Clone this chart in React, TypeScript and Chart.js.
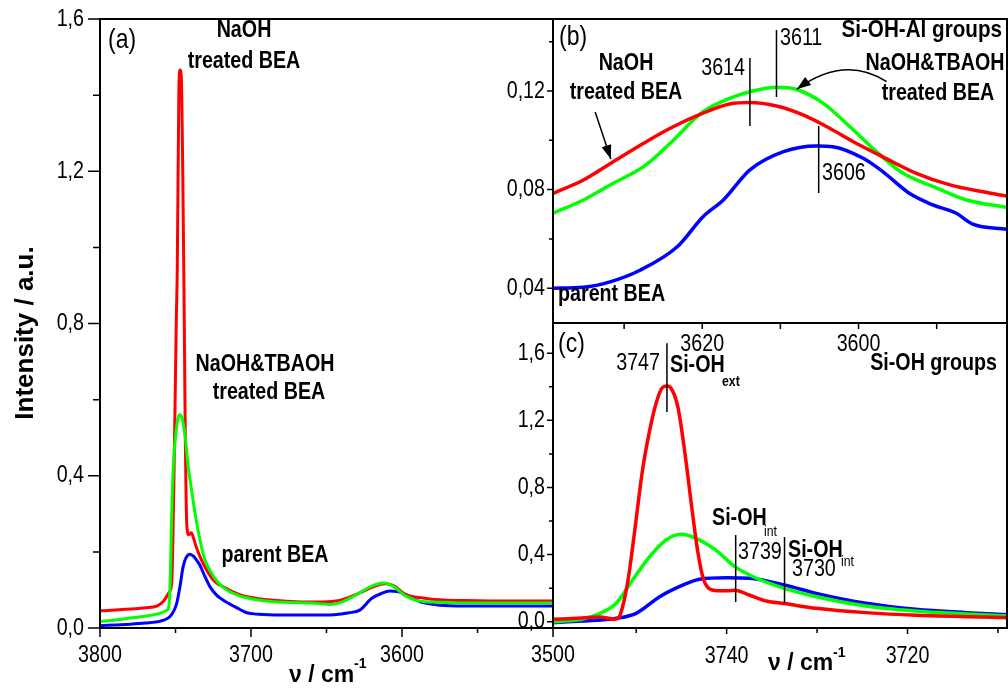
import React, { useEffect, useRef } from 'react';
import { Chart, registerables } from 'chart.js';

Chart.register(...registerables);

const CW = 1008;
const CH = 693;
const SANS = "'Liberation Sans', Arial, sans-serif";
const SX = 0.82; // horizontal condensing of the narrow-looking labels
const RED = '#ff0000';
const GREEN = '#00ff00';
const BLUE = '#0000ff';

// ---------- Panel (a): full OH region ----------
const aRedX = [3800, 3790, 3780, 3770, 3762, 3758, 3755.5, 3754, 3752.5, 3751, 3749.5, 3748.8, 3747.8, 3747, 3746.2, 3745.2, 3744.4, 3743.5, 3742.5, 3741.2, 3739.5, 3738, 3736, 3733.5, 3729.3, 3724, 3718.3, 3712, 3707, 3695, 3685, 3670, 3655, 3645, 3637, 3628, 3619, 3611, 3606, 3597, 3586, 3575, 3560, 3540, 3520, 3500];
const aRedY = [0.045, 0.047, 0.050, 0.053, 0.058, 0.070, 0.085, 0.095, 0.12, 0.40, 0.80, 0.95, 1.40, 1.466, 1.45, 1.20, 0.90, 0.50, 0.27, 0.245, 0.25, 0.235, 0.21, 0.185, 0.152, 0.122, 0.108, 0.095, 0.087, 0.077, 0.073, 0.069, 0.068, 0.07, 0.078, 0.092, 0.108, 0.116, 0.112, 0.087, 0.079, 0.074, 0.072, 0.071, 0.071, 0.071];
const aGreenX = [3800, 3790, 3780, 3770, 3760, 3756, 3754.5, 3753.5, 3752.5, 3751.5, 3749.5, 3747.5, 3745.5, 3743.5, 3741.5, 3740, 3737, 3734, 3731, 3727, 3722, 3716, 3708, 3700, 3690, 3675, 3660, 3648, 3640, 3630, 3620, 3612, 3606, 3598, 3590, 3580, 3560, 3530, 3500];
const aGreenY = [0.017, 0.021, 0.026, 0.031, 0.039, 0.046, 0.055, 0.12, 0.30, 0.42, 0.52, 0.56, 0.55, 0.50, 0.42, 0.38, 0.30, 0.235, 0.185, 0.15, 0.12, 0.10, 0.085, 0.077, 0.071, 0.067, 0.066, 0.062, 0.068, 0.088, 0.110, 0.118, 0.110, 0.085, 0.072, 0.068, 0.066, 0.066, 0.066];
const aBlueX = [3800, 3790, 3780, 3770, 3760, 3755, 3752.5, 3750.5, 3749, 3747, 3745, 3743, 3740.4, 3738, 3735.5, 3733.8, 3730.5, 3727.1, 3722.5, 3718.3, 3714.5, 3711.7, 3707, 3702.8, 3695, 3680, 3660, 3645, 3635, 3628, 3620, 3614, 3608, 3603, 3597, 3590, 3583, 3575, 3560, 3540, 3520, 3500];
const aBlueY = [0.006, 0.008, 0.010, 0.013, 0.018, 0.026, 0.036, 0.050, 0.068, 0.110, 0.160, 0.185, 0.194, 0.188, 0.175, 0.165, 0.135, 0.108, 0.085, 0.073, 0.064, 0.058, 0.048, 0.040, 0.036, 0.034, 0.034, 0.035, 0.040, 0.047, 0.078, 0.090, 0.097, 0.096, 0.087, 0.072, 0.064, 0.060, 0.058, 0.058, 0.058, 0.058];

// ---------- Panel (b): Si-OH-Al region ----------
const bRedX = [3639.1, 3635.2, 3631.4, 3627.5, 3624.1, 3619.9, 3616.5, 3613.9, 3610.5, 3607.1, 3603.7, 3600.3, 3596.9, 3592.6, 3588.3, 3584.1, 3581];
const bRedY = [0.0785, 0.0839, 0.0913, 0.0988, 0.1049, 0.1110, 0.1147, 0.1153, 0.1139, 0.1103, 0.1049, 0.0988, 0.0933, 0.0866, 0.0819, 0.0791, 0.0774];
const bGreenX = [3639.1, 3635.2, 3631.4, 3627.5, 3624.1, 3619.9, 3616.5, 3613.9, 3610.5, 3608, 3604.5, 3601.1, 3597.7, 3594.3, 3590.4, 3586.2, 3581];
const bGreenY = [0.0704, 0.0758, 0.0826, 0.0893, 0.0988, 0.1116, 0.1170, 0.1197, 0.1215, 0.1207, 0.1150, 0.1055, 0.0954, 0.0866, 0.0812, 0.0758, 0.0728];
const bBlueX = [3639.1, 3635.2, 3631.8, 3627.9, 3623.2, 3619.9, 3617.3, 3613.9, 3609.6, 3605.4, 3603.3, 3599.4, 3596.9, 3593.5, 3590.5, 3587.5, 3585.4, 3581];
const bBlueY = [0.0400, 0.0404, 0.0426, 0.0474, 0.0568, 0.0690, 0.0758, 0.0880, 0.0954, 0.0977, 0.0974, 0.0927, 0.0873, 0.0785, 0.0738, 0.0704, 0.0660, 0.0639];

// ---------- Panel (c): Si-OH region ----------
const cRedX = [3759.2, 3756, 3754, 3753, 3752.5, 3752, 3751.6, 3750.9, 3750.2, 3749.3, 3748.5, 3747.8, 3747.1, 3746.6, 3746.2, 3745.4, 3744.6, 3743.9, 3743.2, 3742.6, 3742, 3741, 3739.8, 3739.1, 3737.5, 3735.6, 3733.6, 3730.1, 3724.6, 3719.1, 3713.5, 3709];
const cRedY = [0.014, 0.022, 0.028, 0.020, 0.014, 0.020, 0.070, 0.249, 0.527, 0.904, 1.143, 1.302, 1.395, 1.405, 1.395, 1.282, 1.000, 0.700, 0.420, 0.260, 0.200, 0.185, 0.185, 0.188, 0.159, 0.123, 0.108, 0.080, 0.054, 0.038, 0.030, 0.024];
const cGreenX = [3759.2, 3757.5, 3755.9, 3754, 3752.2, 3750.4, 3748.5, 3746.7, 3745, 3743.4, 3741.2, 3739.1, 3736.7, 3733.6, 3730.1, 3724.6, 3719.1, 3713.5, 3709];
const cGreenY = [0.000, 0.006, 0.016, 0.050, 0.110, 0.249, 0.388, 0.487, 0.521, 0.497, 0.427, 0.328, 0.259, 0.199, 0.149, 0.094, 0.064, 0.046, 0.034];
const cBlueX = [3759.2, 3756, 3754, 3752.2, 3750, 3747.4, 3744.8, 3743, 3740, 3737.5, 3733.6, 3730.1, 3724.6, 3719.1, 3713.5, 3709];
const cBlueY = [-0.006, 0.004, 0.010, 0.020, 0.050, 0.149, 0.219, 0.253, 0.262, 0.259, 0.219, 0.169, 0.110, 0.074, 0.054, 0.042];

// ---------- annotation values (data units) ----------
const bMarkX = [3613.9, 3610.5, 3605.1];
const bMarkTop = [0.1334, 0.1447, 0.1058];
const bMarkBottom = [0.1058, 0.1176, 0.0786];
const cMarkX = [3746.6, 3739.0, 3733.6];
const cMarkTop = [1.66, 0.517, 0.505];
const cMarkBottom = [1.25, 0.117, 0.111];
const bArrowX = [3633.7, 3631.7];
const bArrowY = [0.1115, 0.0924];
const bCurveX = [3596.4, 3601.85, 3607.9];
const bCurveY = [0.1238, 0.1348, 0.1207];

type Txt = { t: string; x: number; y: number; size: number; bold?: boolean; align?: CanvasTextAlign; base?: CanvasTextBaseline; sx?: number };
type Axis = { min: number; max: number; step: number; major: number; dec: number; pad: number; majorLen: number; minorLen: number };
type Series = { xs: number[]; ys: number[]; color: string; width: number };
type Spec = { area: [number, number, number, number]; x: Axis; y: Axis; series: Series[]; texts: Txt[]; extra?: (chart: any) => void };

function drawText(ctx: CanvasRenderingContext2D, s: Txt) {
  ctx.save();
  ctx.fillStyle = '#000';
  ctx.font = `${s.bold ? 'bold ' : ''}${s.size}px ${SANS}`;
  ctx.textAlign = s.align || 'left';
  ctx.textBaseline = s.base || 'middle';
  ctx.translate(s.x, s.y);
  ctx.scale(s.sx ?? SX, 1);
  ctx.fillText(s.t, 0, 0);
  ctx.restore();
}

function arrowHead(ctx: CanvasRenderingContext2D, tx: number, ty: number, fx: number, fy: number, len: number, half: number) {
  const a = Math.atan2(ty - fy, tx - fx);
  const c = Math.cos(a), s = Math.sin(a);
  ctx.beginPath();
  ctx.moveTo(tx, ty);
  ctx.lineTo(tx - len * c + half * s, ty - len * s - half * c);
  ctx.lineTo(tx - len * c - half * s, ty - len * s + half * c);
  ctx.closePath();
  ctx.fill();
}

const isMajor = (v: number, m: number) => Math.abs(v / m - Math.round(v / m)) < 1e-6;

function buildConfig(spec: Spec): any {
  const [l, t, r, b] = spec.area;
  const plugin = {
    id: 'panelDecor',
    afterDraw(chart: any) {
      const ctx: CanvasRenderingContext2D = chart.ctx;
      const xs = chart.scales.x;
      const ys = chart.scales.y;
      ctx.save();
      ctx.strokeStyle = '#000';
      ctx.lineWidth = 2;
      ctx.strokeRect(l, t, r - l, b - t);
      ctx.lineWidth = 1.5;
      ctx.beginPath();
      for (const tk of ys.ticks) {
        const py = ys.getPixelForValue(tk.value);
        const len = isMajor(tk.value, spec.y.major) ? spec.y.majorLen : spec.y.minorLen;
        ctx.moveTo(l - len, py);
        ctx.lineTo(l, py);
      }
      for (const tk of xs.ticks) {
        const px = xs.getPixelForValue(tk.value);
        const len = isMajor(tk.value, spec.x.major) ? spec.x.majorLen : spec.x.minorLen;
        ctx.moveTo(px, b);
        ctx.lineTo(px, b + len);
      }
      ctx.stroke();
      ctx.restore();
      // tick labels, placed by the library's scales
      for (const tk of ys.ticks) {
        if (!tk.label) continue;
        drawText(ctx, { t: String(tk.label), x: l - spec.y.pad, y: ys.getPixelForValue(tk.value), size: 24, align: 'right' });
      }
      for (const tk of xs.ticks) {
        if (!tk.label) continue;
        drawText(ctx, { t: String(tk.label), x: xs.getPixelForValue(tk.value), y: b + spec.x.pad + 14, size: 24, align: 'center' });
      }
      if (spec.extra) spec.extra(chart);
      spec.texts.forEach((s) => drawText(ctx, s));
    },
  };
  return {
    type: 'line',
    data: {
      datasets: spec.series.map((s) => ({
        data: s.xs.map((x, i) => ({ x, y: s.ys[i] })),
        borderColor: s.color,
        borderWidth: s.width,
        pointRadius: 0,
        fill: false,
        cubicInterpolationMode: 'monotone',
        clip: 0,
      })),
    },
    options: {
      responsive: false,
      maintainAspectRatio: false,
      animation: false,
      events: [],
      layout: { padding: { left: 0, top: t, right: CW - r, bottom: 0 } },
      plugins: { legend: { display: false }, tooltip: { enabled: false }, title: { display: false } },
      scales: {
        x: {
          type: 'linear',
          reverse: true,
          min: spec.x.min,
          max: spec.x.max,
          grid: { display: false, drawTicks: false, tickLength: 0 },
          border: { display: false },
          ticks: {
            display: false,
            stepSize: spec.x.step,
            includeBounds: false,
            autoSkip: false,
            maxRotation: 0,
            minRotation: 0,
            callback: (v: number) => (isMajor(v, spec.x.major) ? String(Math.round(v)) : ''),
          },
          afterFit: (s: any) => { s.height = CH - b; },
        },
        y: {
          type: 'linear',
          min: spec.y.min,
          max: spec.y.max,
          grid: { display: false, drawTicks: false, tickLength: 0 },
          border: { display: false },
          ticks: {
            display: false,
            stepSize: spec.y.step,
            includeBounds: false,
            autoSkip: false,
            callback: (v: number) => (isMajor(v, spec.y.major) ? v.toFixed(spec.y.dec).replace('.', ',') : ''),
          },
          afterFit: (s: any) => { s.width = l; },
        },
      },
    },
    plugins: [plugin],
  };
}

const specA: Spec = {
  area: [100, 19, 553, 628],
  x: { min: 3500, max: 3800, step: 50, major: 100, dec: 0, pad: 13, majorLen: 9, minorLen: 5 },
  y: { min: 0, max: 1.6, step: 0.2, major: 0.4, dec: 1, pad: 16, majorLen: 12, minorLen: 7 },
  series: [
    { xs: aGreenX, ys: aGreenY, color: GREEN, width: 3 },
    { xs: aRedX, ys: aRedY, color: RED, width: 3 },
    { xs: aBlueX, ys: aBlueY, color: BLUE, width: 3 },
  ],
  texts: [
    { t: '(a)', x: 108, y: 40, size: 28 },
    { t: 'NaOH', x: 244, y: 30, size: 24, bold: true, align: 'center' },
    { t: 'treated BEA', x: 244, y: 61, size: 24, bold: true, align: 'center' },
    { t: 'NaOH&TBAOH', x: 265, y: 364, size: 24, bold: true, align: 'center' },
    { t: 'treated BEA', x: 269, y: 392, size: 24, bold: true, align: 'center' },
    { t: 'parent BEA', x: 275, y: 555, size: 24, bold: true, align: 'center' },
    { t: 'ν / cm', x: 289, y: 682, size: 23, bold: true, base: 'alphabetic', sx: 1 },
    { t: '-1', x: 354, y: 668, size: 14, bold: true, base: 'alphabetic', sx: 1 },
  ],
  extra: (chart: any) => {
    const ctx: CanvasRenderingContext2D = chart.ctx;
    ctx.save();
    ctx.translate(33, 333);
    ctx.rotate(-Math.PI / 2);
    ctx.fillStyle = '#000';
    ctx.font = `bold 26px ${SANS}`;
    ctx.textAlign = 'center';
    ctx.textBaseline = 'alphabetic';
    ctx.fillText('Intensity / a.u.', 0, 0);
    ctx.restore();
  },
};

const specB: Spec = {
  area: [553, 19, 1007, 323],
  x: { min: 3581, max: 3639.1, step: 10, major: 20, dec: 0, pad: 7, majorLen: 6, minorLen: 6 },
  y: { min: 0.0259, max: 0.1492, step: 0.02, major: 0.04, dec: 2, pad: 8, majorLen: 6, minorLen: 4 },
  series: [
    { xs: bRedX, ys: bRedY, color: RED, width: 3.5 },
    { xs: bGreenX, ys: bGreenY, color: GREEN, width: 3.5 },
    { xs: bBlueX, ys: bBlueY, color: BLUE, width: 3.5 },
  ],
  texts: [
    { t: '(b)', x: 559, y: 37, size: 28 },
    { t: 'NaOH', x: 626, y: 63, size: 24, bold: true, align: 'center' },
    { t: 'treated BEA', x: 626, y: 92, size: 24, bold: true, align: 'center' },
    { t: '3614', x: 745, y: 68, size: 24, align: 'right' },
    { t: '3611', x: 780, y: 38, size: 24 },
    { t: '3606', x: 822, y: 173, size: 24 },
    { t: 'Si-OH-Al groups', x: 1002, y: 30, size: 24, bold: true, align: 'right', sx: 0.86 },
    { t: 'NaOH&TBAOH', x: 935, y: 63, size: 24, bold: true, align: 'center' },
    { t: 'treated BEA', x: 938, y: 93, size: 24, bold: true, align: 'center' },
    { t: 'parent BEA', x: 558, y: 294, size: 24, bold: true },
  ],
  extra: (chart: any) => {
    const ctx: CanvasRenderingContext2D = chart.ctx;
    const xs = chart.scales.x;
    const ys = chart.scales.y;
    const px = (v: number) => xs.getPixelForValue(v);
    const py = (v: number) => ys.getPixelForValue(v);
    ctx.save();
    ctx.strokeStyle = '#000';
    ctx.fillStyle = '#000';
    ctx.lineWidth = 1.5;
    ctx.beginPath();
    bMarkX.forEach((m, i) => {
      ctx.moveTo(px(m), py(bMarkTop[i]));
      ctx.lineTo(px(m), py(bMarkBottom[i]));
    });
    ctx.stroke();
    const ax0 = px(bArrowX[0]), ay0 = py(bArrowY[0]);
    const ax1 = px(bArrowX[1]), ay1 = py(bArrowY[1]);
    ctx.beginPath();
    ctx.moveTo(ax0, ay0);
    ctx.lineTo(ax1, ay1);
    ctx.stroke();
    arrowHead(ctx, ax1, ay1, ax0, ay0, 14, 5);
    const c0x = px(bCurveX[0]), c0y = py(bCurveY[0]);
    const c1x = px(bCurveX[1]), c1y = py(bCurveY[1]);
    const c2x = px(bCurveX[2]), c2y = py(bCurveY[2]);
    ctx.beginPath();
    ctx.moveTo(c0x, c0y);
    ctx.quadraticCurveTo(c1x, c1y, c2x, c2y);
    ctx.stroke();
    arrowHead(ctx, c2x, c2y, c1x, c1y, 14, 5);
    ctx.restore();
  },
};

const specC: Spec = {
  area: [553, 323, 1007, 628],
  x: { min: 3709, max: 3759.2, step: 10, major: 20, dec: 0, pad: 14, majorLen: 6, minorLen: 5 },
  y: { min: -0.0376, max: 1.78, step: 0.2, major: 0.4, dec: 1, pad: 8, majorLen: 6, minorLen: 4 },
  series: [
    { xs: cRedX, ys: cRedY, color: RED, width: 3.5 },
    { xs: cGreenX, ys: cGreenY, color: GREEN, width: 3.5 },
    { xs: cBlueX, ys: cBlueY, color: BLUE, width: 3.5 },
  ],
  texts: [
    { t: '(c)', x: 558, y: 344, size: 28 },
    { t: '3747', x: 660, y: 363, size: 24, align: 'right' },
    { t: 'Si-OH', x: 670, y: 365, size: 24, bold: true },
    { t: 'ext', x: 722, y: 382, size: 15, bold: true },
    { t: 'Si-OH groups', x: 997, y: 363, size: 24, bold: true, align: 'right' },
    { t: 'Si-OH', x: 712, y: 518, size: 24, bold: true },
    { t: 'int', x: 764, y: 532, size: 15 },
    { t: '3739', x: 738, y: 552, size: 24 },
    { t: 'Si-OH', x: 788, y: 550, size: 24, bold: true },
    { t: '3730', x: 792, y: 569, size: 24 },
    { t: 'int', x: 841, y: 562, size: 15 },
    { t: 'ν / cm', x: 768, y: 670, size: 23, bold: true, base: 'alphabetic', sx: 1 },
    { t: '-1', x: 833, y: 657, size: 14, bold: true, base: 'alphabetic', sx: 1 },
  ],
  extra: (chart: any) => {
    const ctx: CanvasRenderingContext2D = chart.ctx;
    const xs = chart.scales.x;
    const ys = chart.scales.y;
    ctx.save();
    ctx.strokeStyle = '#000';
    ctx.lineWidth = 1.5;
    ctx.beginPath();
    cMarkX.forEach((m, i) => {
      const x = xs.getPixelForValue(m);
      ctx.moveTo(x, ys.getPixelForValue(cMarkTop[i]));
      ctx.lineTo(x, ys.getPixelForValue(cMarkBottom[i]));
    });
    ctx.stroke();
    ctx.restore();
  },
};

function Panel({ spec }: { spec: Spec }) {
  const ref = useRef<HTMLCanvasElement>(null);
  useEffect(() => {
    const chart = new Chart(ref.current as HTMLCanvasElement, buildConfig(spec));
    return () => chart.destroy();
  }, [spec]);
  return <canvas ref={ref} width={CW} height={CH} style={{ position: 'absolute', left: 0, top: 0 }} />;
}

export default function App() {
  return (
    <div style={{ position: 'absolute', left: 0, top: 0, width: CW, height: CH, background: '#fff', overflow: 'hidden' }}>
      <Panel spec={specA} />
      <Panel spec={specB} />
      <Panel spec={specC} />
    </div>
  );
}
